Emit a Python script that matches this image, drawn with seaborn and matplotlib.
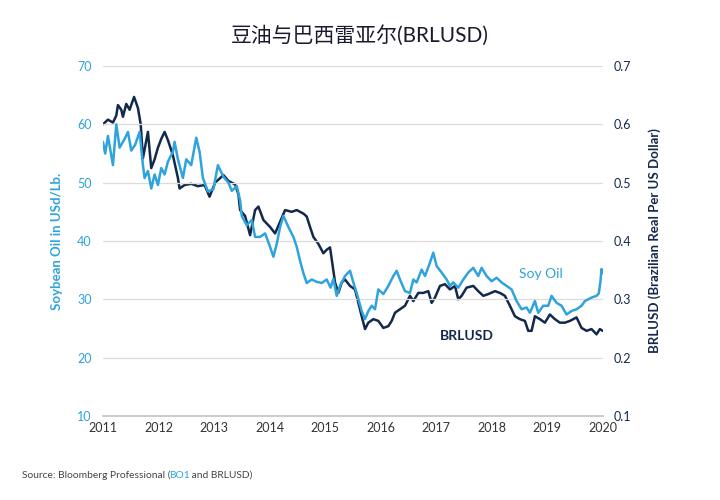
import numpy as np
import pandas as pd
import matplotlib
matplotlib.use("Agg")
import matplotlib.pyplot as plt
import seaborn as sns

# values (x in fractional years)
soy_t = [2011.00, 2011.04, 2011.09, 2011.18, 2011.24, 2011.30, 2011.39, 2011.45, 2011.51, 2011.58,
         2011.66, 2011.72, 2011.75, 2011.81, 2011.87, 2011.93, 2011.99, 2012.05, 2012.11, 2012.17,
         2012.26, 2012.29, 2012.35, 2012.44, 2012.50, 2012.59, 2012.68, 2012.74, 2012.80, 2012.89,
         2012.99, 2013.07, 2013.17, 2013.26, 2013.32, 2013.41, 2013.47, 2013.50, 2013.59, 2013.68,
         2013.74, 2013.83, 2013.92, 2014.01, 2014.07, 2014.13, 2014.19, 2014.25, 2014.34, 2014.43,
         2014.49, 2014.55, 2014.61, 2014.67, 2014.76, 2014.85, 2014.94, 2015.03, 2015.10, 2015.15,
         2015.21, 2015.27, 2015.36, 2015.45, 2015.51, 2015.57, 2015.66, 2015.72, 2015.78, 2015.84,
         2015.90, 2015.96, 2016.05, 2016.14, 2016.23, 2016.29, 2016.35, 2016.44, 2016.53, 2016.59,
         2016.65, 2016.74, 2016.80, 2016.89, 2016.95, 2017.01, 2017.10, 2017.19, 2017.25, 2017.31,
         2017.40, 2017.49, 2017.58, 2017.67, 2017.76, 2017.82, 2017.91, 2018.00, 2018.09, 2018.18,
         2018.27, 2018.36, 2018.45, 2018.54, 2018.63, 2018.69, 2018.78, 2018.84, 2018.93, 2019.02,
         2019.08, 2019.17, 2019.26, 2019.35, 2019.44, 2019.53, 2019.62, 2019.68, 2019.80, 2019.89,
         2019.93, 2019.96, 2019.98, 2020.00]
soy_v = [57.0, 55.0, 58.0, 53.0, 60.0, 56.0, 57.5, 58.7, 55.5, 56.5,
         58.7, 53.0, 50.8, 52.0, 49.0, 51.4, 49.6, 52.5, 51.4, 53.6,
         55.3, 57.0, 54.0, 50.8, 54.0, 53.0, 57.7, 55.3, 50.8, 48.5,
         48.9, 53.0, 51.0, 50.0, 48.6, 49.4, 47.0, 44.3, 42.7, 43.6,
         40.7, 40.7, 41.3, 39.0, 37.3, 39.5, 42.4, 44.3, 42.4, 40.7,
         39.0, 36.6, 34.5, 32.8, 33.4, 33.0, 32.8, 33.4, 32.0, 33.5,
         30.6, 32.3, 34.0, 34.9, 32.9, 31.1, 28.0, 26.6, 28.0, 28.9,
         28.3, 31.7, 30.9, 32.3, 34.0, 34.9, 33.4, 31.4, 31.1, 33.4,
         32.9, 35.1, 34.0, 36.3, 38.0, 35.7, 34.6, 33.4, 32.3, 32.9,
         32.0, 33.4, 34.6, 35.4, 34.0, 35.4, 34.0, 33.1, 33.7, 32.9,
         32.3, 31.7, 29.7, 28.3, 28.6, 27.7, 29.7, 27.7, 28.9, 28.9,
         30.6, 29.4, 28.9, 27.4, 28.0, 28.3, 28.9, 29.7, 30.3, 30.6,
         31.0, 33.0, 35.2, 34.5]

brl_t = [2011.00, 2011.09, 2011.18, 2011.24, 2011.27, 2011.33, 2011.36, 2011.42, 2011.48, 2011.56,
         2011.63, 2011.68, 2011.72, 2011.81, 2011.87, 2011.93, 2011.99, 2012.05, 2012.11, 2012.17,
         2012.26, 2012.35, 2012.38, 2012.47, 2012.59, 2012.71, 2012.83, 2012.92, 2013.02, 2013.17,
         2013.26, 2013.38, 2013.44, 2013.47, 2013.56, 2013.65, 2013.74, 2013.80, 2013.89, 2014.01,
         2014.10, 2014.19, 2014.28, 2014.40, 2014.49, 2014.61, 2014.67, 2014.73, 2014.79, 2014.88,
         2014.97, 2015.03, 2015.09, 2015.12, 2015.18, 2015.24, 2015.30, 2015.36, 2015.45, 2015.54,
         2015.60, 2015.66, 2015.72, 2015.78, 2015.87, 2015.96, 2016.05, 2016.14, 2016.20, 2016.26,
         2016.35, 2016.44, 2016.53, 2016.59, 2016.68, 2016.77, 2016.86, 2016.92, 2016.98, 2017.07,
         2017.16, 2017.25, 2017.34, 2017.40, 2017.46, 2017.55, 2017.67, 2017.76, 2017.85, 2017.94,
         2018.06, 2018.15, 2018.24, 2018.33, 2018.42, 2018.51, 2018.60, 2018.66, 2018.72, 2018.78,
         2018.87, 2018.96, 2019.05, 2019.14, 2019.23, 2019.32, 2019.41, 2019.53, 2019.62, 2019.71,
         2019.80, 2019.89, 2019.95, 2020.00]
brl_v = [0.600, 0.608, 0.603, 0.615, 0.633, 0.625, 0.613, 0.635, 0.625, 0.647,
         0.628, 0.600, 0.542, 0.587, 0.525, 0.540, 0.560, 0.575, 0.587, 0.573,
         0.547, 0.508, 0.490, 0.496, 0.498, 0.494, 0.496, 0.476, 0.500, 0.513,
         0.503, 0.497, 0.480, 0.453, 0.443, 0.410, 0.453, 0.459, 0.436, 0.424,
         0.413, 0.433, 0.453, 0.450, 0.453, 0.447, 0.442, 0.424, 0.407, 0.395,
         0.379, 0.385, 0.389, 0.369, 0.329, 0.311, 0.329, 0.334, 0.323, 0.317,
         0.294, 0.271, 0.249, 0.260, 0.266, 0.263, 0.251, 0.254, 0.263, 0.277,
         0.283, 0.289, 0.306, 0.297, 0.311, 0.311, 0.314, 0.294, 0.303, 0.323,
         0.326, 0.317, 0.323, 0.300, 0.306, 0.320, 0.323, 0.314, 0.306, 0.309,
         0.314, 0.311, 0.306, 0.289, 0.271, 0.266, 0.263, 0.246, 0.246, 0.271,
         0.266, 0.260, 0.274, 0.266, 0.260, 0.260, 0.263, 0.269, 0.251, 0.246,
         0.249, 0.240, 0.249, 0.246]

year_ticks = list(range(2011, 2021))
soy_ticks = [10, 20, 30, 40, 50, 60, 70]
brl_ticks = [0.1, 0.2, 0.3, 0.4, 0.5, 0.6, 0.7]

SOY = "#2ea3dc"
NAVY = "#13294b"

sns.set_theme(style="white")
plt.rcParams["font.family"] = ["Lato", "Noto Sans CJK SC", "DejaVu Sans"]

soy = pd.DataFrame({"t": soy_t, "v": soy_v})
brl = pd.DataFrame({"t": brl_t, "v": brl_v})

fig = plt.figure(figsize=(7.2, 5.0), dpi=100)
ax = fig.add_axes([0.143, 0.168, 0.694, 0.70])
ax2 = ax.twinx()

sns.lineplot(data=soy, x="t", y="v", ax=ax, color=SOY, lw=1.8)
sns.lineplot(data=brl, x="t", y="v", ax=ax2, color=NAVY, lw=1.8)
ax.set_zorder(ax2.get_zorder() + 1)
ax.patch.set_visible(False)

ax.set_xlim(2011, 2020)
ax.set_ylim(10, 70)
ax2.set_ylim(0.1, 0.7)
ax.set_xticks(year_ticks)
ax.set_xticklabels([str(y) for y in year_ticks], fontsize=9, color="#333333")
ax.set_yticks(soy_ticks)
ax.set_yticklabels([str(v) for v in soy_ticks], fontsize=9, color=SOY)
ax2.set_yticks(brl_ticks)
ax2.set_yticklabels([f"{v:.1f}" for v in brl_ticks], fontsize=9, color=NAVY)

ax.grid(axis="y", color="#dcdcdc", lw=0.9)
ax.grid(axis="x", visible=False)
for a in (ax, ax2):
    for s in ("top", "left", "right"):
        a.spines[s].set_visible(False)
    a.spines["bottom"].set_color("#cccccc")
ax.tick_params(axis="x", length=3, color="#cccccc", pad=4, direction="in")
ax.tick_params(axis="y", length=0, pad=8)
ax2.tick_params(axis="y", length=0, pad=8)

ax.set_xlabel("")
ax.set_ylabel("Soybean Oil in USd/Lb.", color=SOY, fontsize=9.5, fontweight="bold", labelpad=10)
ax2.set_xlabel("")
ax2.set_ylabel("BRLUSD (Brazilian Real Per US Dollar)", color=NAVY, fontsize=9.5,
               fontweight="bold", labelpad=12)

ax.text(2018.88, 34.3, "Soy Oil", color=SOY, fontsize=10, ha="center", va="center")
ax.text(2017.56, 23.8, "BRLUSD", color=NAVY, fontsize=10, fontweight="bold", ha="center", va="center")

fig.text(0.5, 0.93, "豆油与巴西雷亚尔(BRLUSD)", ha="center", va="center", fontsize=15, color="#1a1a2e")

# source line with the highlighted ticker, pieces placed one after another
parts = [("Source: Bloomberg Professional (", "#444444"), ("BO1", SOY), (" and BRLUSD)", "#444444")]
fig.canvas.draw()
renderer = fig.canvas.get_renderer()
x_px = 22.0
for txt, col in parts:
    t = fig.text(x_px / 720, 0.044, txt, fontsize=7.4, color=col, ha="left", va="baseline")
    x_px += t.get_window_extent(renderer=renderer).width - 1.2

plt.savefig("out.png", dpi=100)
